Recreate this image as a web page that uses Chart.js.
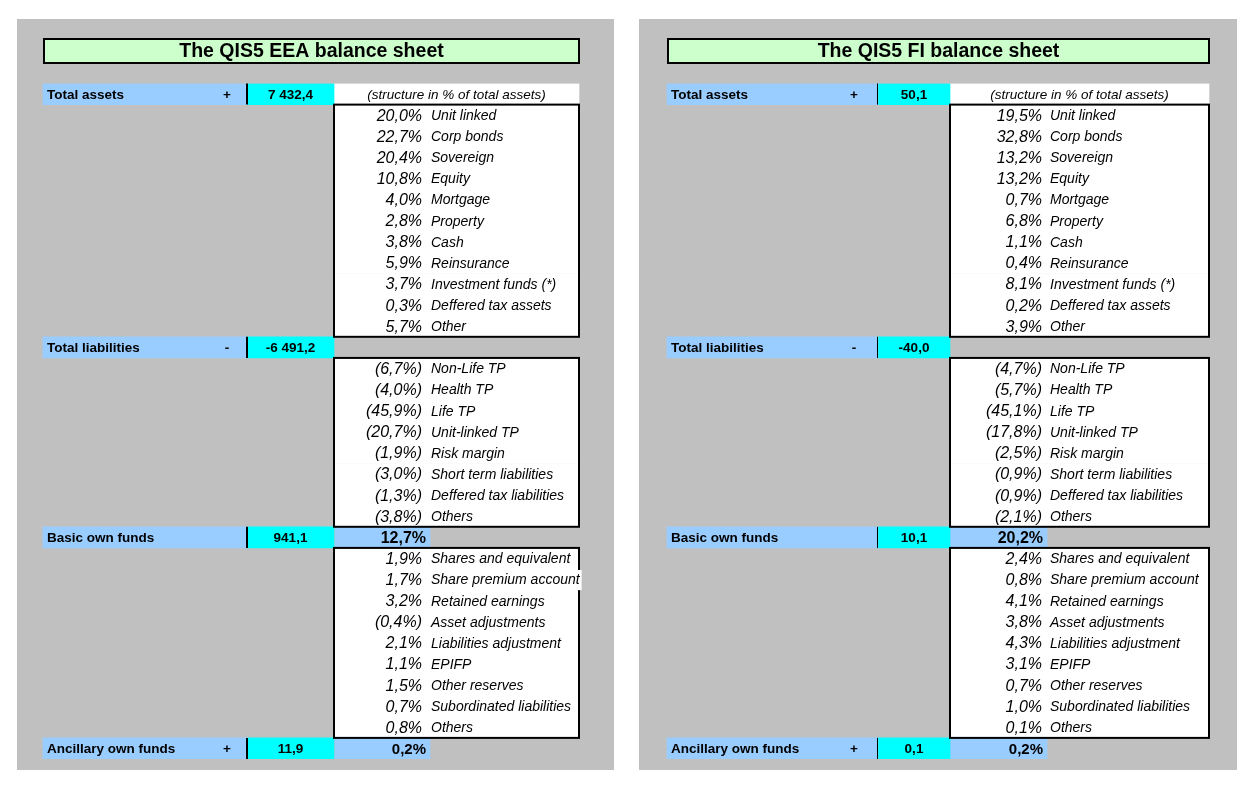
<!DOCTYPE html>
<html>
<head>
<meta charset="utf-8">
<script src="https://cdn.jsdelivr.net/npm/chart.js@4.4.1/dist/chart.umd.min.js"></script>
<style>
  body { margin: 0; background: #ffffff; }
  .panel { position: absolute; top: 19px; height: 751px; background: #c0c0c0; }
  #p1 { left: 17px; width: 597px; }
  #p2 { left: 639px; width: 598px; }
</style>
</head>
<body>
<div class="panel" id="p1"><canvas id="chart-eea" width="597" height="751"></canvas></div>
<div class="panel" id="p2"><canvas id="chart-fi" width="598" height="751"></canvas></div>
<script>
// Row labels
var headers = ["Total assets", "Total liabilities", "Basic own funds", "Ancillary own funds"];
var headerSigns = ["+", "-", "", "+"];
var assetItems = ["Unit linked", "Corp bonds", "Sovereign", "Equity", "Mortgage", "Property", "Cash",
  "Reinsurance", "Investment funds (*)", "Deffered tax assets", "Other"];
var liabItems = ["Non-Life TP", "Health TP", "Life TP", "Unit-linked TP", "Risk margin",
  "Short term liabilities", "Deffered tax liabilities", "Others"];
var ownFundItems = ["Shares and equivalent", "Share premium account", "Retained earnings", "Asset adjustments",
  "Liabilities adjustment", "EPIFP", "Other reserves", "Subordinated liabilities", "Others"];

// EEA values
var eeaTotals = [7432.4, -6491.2, 941.1, 11.9];
var eeaAssets = [20.0, 22.7, 20.4, 10.8, 4.0, 2.8, 3.8, 5.9, 3.7, 0.3, 5.7];
var eeaLiabs = [-6.7, -4.0, -45.9, -20.7, -1.9, -3.0, -1.3, -3.8];
var eeaOwnFunds = [1.9, 1.7, 3.2, -0.4, 2.1, 1.1, 1.5, 0.7, 0.8];
var eeaOwnShare = [12.7, 0.2];

// FI values
var fiTotals = [50.1, -40.0, 10.1, 0.1];
var fiAssets = [19.5, 32.8, 13.2, 13.2, 0.7, 6.8, 1.1, 0.4, 8.1, 0.2, 3.9];
var fiLiabs = [-4.7, -5.7, -45.1, -17.8, -2.5, -0.9, -0.9, -2.1];
var fiOwnFunds = [2.4, 0.8, 4.1, 3.8, 4.3, 3.1, 0.7, 1.0, 0.1];
var fiOwnShare = [20.2, 0.2];

var structureNote = "(structure in % of total assets)";
var FONT = "'Liberation Sans', Arial, sans-serif";

function fmtPct(v) {
  var s = Math.abs(v).toFixed(1).replace(".", ",") + "%";
  return v < 0 ? "(" + s + ")" : s;
}
function fmtNum(v) {
  var parts = Math.abs(v).toFixed(1).split(".");
  var intPart = parts[0].replace(/\B(?=(\d{3})+(?!\d))/g, " ");
  return (v < 0 ? "-" : "") + intPart + "," + parts[1];
}

// Build rows: header, then the items of its section
function buildRows(totals, sections, ownShare) {
  var rows = [];
  var names = [assetItems, liabItems, ownFundItems, []];
  for (var s = 0; s < headers.length; s++) {
    rows.push({ kind: "head", s: s, label: headers[s], sign: headerSigns[s], value: fmtNum(totals[s]),
      share: s >= 2 ? fmtPct(ownShare[s - 2]) : null });
    for (var j = 0; j < names[s].length; j++) {
      rows.push({ kind: "item", s: s, label: names[s][j], value: fmtPct(sections[s][j]) });
    }
  }
  return rows;
}

var tablePlugin = {
  id: "tableText",
  beforeDatasetsDraw: function (chart, args, o) {
    var ctx = chart.ctx, L = o.layout;
    ctx.save();
    ctx.fillStyle = "#ccffcc";
    ctx.fillRect(L.title[0], L.titleY[0], L.title[1] - L.title[0], L.titleY[1] - L.titleY[0]);
    ctx.strokeStyle = "#000";
    ctx.lineWidth = 2;
    ctx.strokeRect(L.title[0] + 1, L.titleY[0] + 1, L.title[1] - L.title[0] - 2, L.titleY[1] - L.titleY[0] - 2);
    ctx.fillStyle = "#000";
    ctx.font = "bold 19.5px " + FONT;
    ctx.textAlign = "center";
    ctx.textBaseline = "middle";
    ctx.fillText(o.title, (L.title[0] + L.title[1]) / 2, (L.titleY[0] + L.titleY[1]) / 2 + 1);
    ctx.restore();
  },
  afterDatasetsDraw: function (chart, args, o) {
    var ctx = chart.ctx, L = o.layout, rows = o.rows, y = chart.scales.y;
    var h = (chart.chartArea.bottom - chart.chartArea.top) / rows.length;
    var mid = function (i) { return y.getPixelForValue(i); };
    ctx.save();
    ctx.strokeStyle = "#000";
    ctx.fillStyle = "#000";

    // divider between label and value cells
    ctx.lineWidth = L.divW;
    rows.forEach(function (r, i) {
      if (r.kind !== "head") return;
      ctx.beginPath();
      ctx.moveTo(L.div, mid(i) - h / 2);
      ctx.lineTo(L.div, mid(i) + h / 2);
      ctx.stroke();
    });

    // box round each group of items
    ctx.lineWidth = 2;
    var start = -1;
    rows.forEach(function (r, i) {
      if (r.kind === "item" && start < 0) start = i;
      var last = r.kind === "item" && (i === rows.length - 1 || rows[i + 1].kind !== "item");
      if (last) {
        var t = mid(start) - h / 2, b = mid(i) + h / 2;
        ctx.strokeRect(L.box[0], t, L.box[1] - L.box[0], b - t);
        start = -1;
      }
    });

    ctx.textBaseline = "middle";
    rows.forEach(function (r, i) {
      var cy = mid(i) + 1;
      if (r.kind === "head") {
        ctx.font = "bold 13.5px " + FONT;
        ctx.textAlign = "left";
        ctx.fillText(r.label, L.headText, cy);
        ctx.textAlign = "center";
        ctx.fillText(r.sign, L.sign, cy);
        ctx.fillText(r.value, (L.value[0] + L.value[1]) / 2, cy);
        if (r.share) {
          ctx.font = (r.s === 2 ? "bold 16px " : "bold 15px ") + FONT;
          ctx.textAlign = "right";
          ctx.fillText(r.share, L.shareRight, cy);
        }
        if (r.s === 0) {
          ctx.font = "italic 13.5px " + FONT;
          ctx.textAlign = "center";
          ctx.fillText(o.note, (L.box[0] + L.box[1]) / 2, cy);
        }
      } else {
        ctx.font = "italic 16px " + FONT;
        ctx.textAlign = "right";
        ctx.fillText(r.value, L.pctRight, cy);
        ctx.font = "italic 14px " + FONT;
        ctx.textAlign = "left";
        var w = ctx.measureText(r.label).width;
        if (L.itemLeft + w > L.box[1] - 1) {
          // text spills over the box edge, like a spreadsheet cell
          ctx.fillStyle = "#ffffff";
          ctx.fillRect(L.box[1] - 2, mid(i) - h / 2 + 1, L.itemLeft + w - L.box[1] + 4, h - 1);
          ctx.fillStyle = "#000";
        }
        ctx.fillText(r.label, L.itemLeft, cy);
      }
    });
    ctx.restore();
  }
};

function makeTable(canvasId, title, rows, L) {
  var isHead = rows.map(function (r) { return r.kind === "head"; });
  var datasets = [
    { label: "labels", backgroundColor: "#99ccff",
      data: isHead.map(function (hd) { return hd ? L.label : null; }) },
    { label: "values", backgroundColor: "#00ffff",
      data: isHead.map(function (hd) { return hd ? L.value : null; }) },
    { label: "shares", backgroundColor: "#99ccff",
      data: rows.map(function (r) { return r.share ? L.share : null; }) },
    { label: "items", backgroundColor: "#ffffff",
      data: rows.map(function (r, i) { return (r.kind === "item" || i === 0) ? L.box : null; }) }
  ];
  datasets.forEach(function (d) {
    d.barPercentage = 1;
    d.categoryPercentage = 1;
    d.grouped = false;
    d.borderWidth = 0;
  });
  return new Chart(document.getElementById(canvasId), {
    type: "bar",
    data: { labels: rows.map(function (r) { return r.label; }), datasets: datasets },
    options: {
      indexAxis: "y",
      responsive: false,
      animation: false,
      devicePixelRatio: 1,
      events: [],
      layout: { padding: { top: 64.5, bottom: 11, left: 0, right: 0 } },
      scales: {
        x: { type: "linear", min: 0, max: L.width, display: false },
        y: { type: "category", display: false, offset: true }
      },
      plugins: {
        legend: { display: false },
        tooltip: { enabled: false },
        tableText: { layout: L, title: title, rows: rows, note: structureNote }
      }
    },
    plugins: [tablePlugin]
  });
}

var eeaRows = buildRows(eeaTotals, [eeaAssets, eeaLiabs, eeaOwnFunds], eeaOwnShare);
var fiRows = buildRows(fiTotals, [fiAssets, fiLiabs, fiOwnFunds], fiOwnShare);

makeTable("chart-eea", "The QIS5 EEA balance sheet", eeaRows, {
  width: 597, title: [26, 563], titleY: [19, 45],
  label: [26, 230], value: [230, 317], share: [318, 413], box: [317, 562],
  div: 230, divW: 2, headText: 30, sign: 210, shareRight: 409, pctRight: 405, itemLeft: 414
});
makeTable("chart-fi", "The QIS5 FI balance sheet", fiRows, {
  width: 598, title: [28, 571], titleY: [19, 45],
  label: [28, 239], value: [239, 311], share: [311, 408], box: [311, 570],
  div: 238.5, divW: 1, headText: 32, sign: 215, shareRight: 404, pctRight: 403, itemLeft: 411
});
</script>
</body>
</html>
